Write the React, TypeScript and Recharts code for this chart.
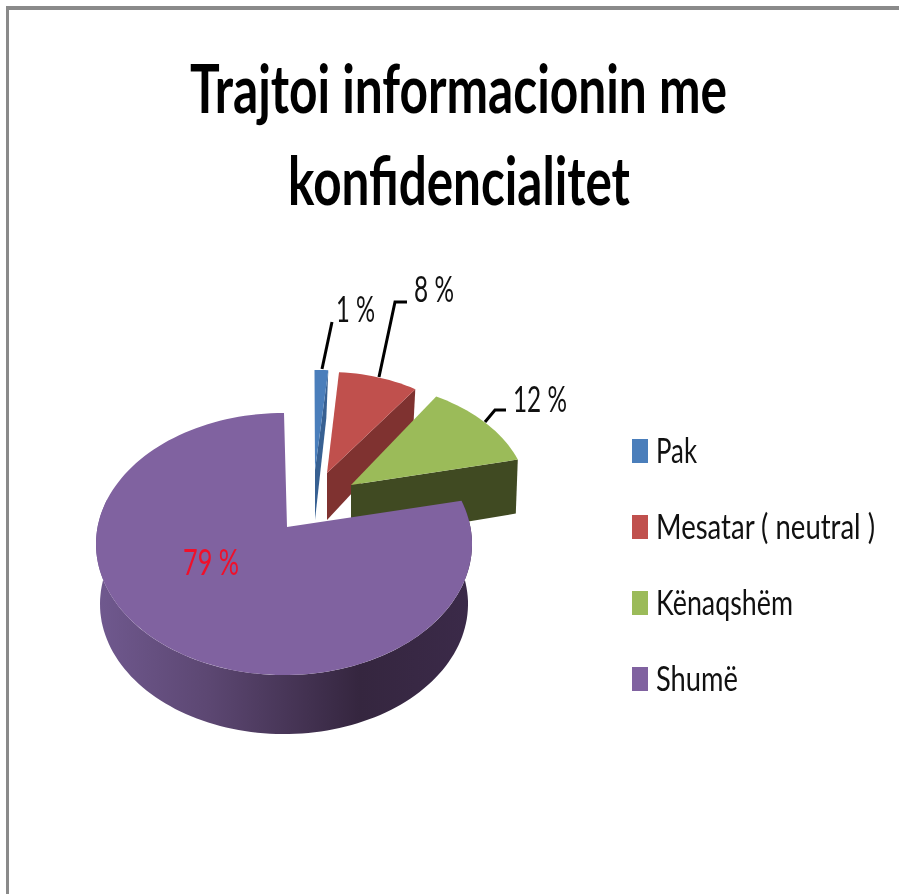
import React from "react";
import { PieChart, Pie, Legend } from "recharts";

const categories = ["Pak", "Mesatar ( neutral )", "Kënaqshëm", "Shumë"];
const shares = [1, 8, 12, 79];
const topColors = ["#4a7ebb", "#c0504d", "#9bbb59", "#8062a0"];
const titleLines = ["Trajtoi informacionin me", "konfidencialitet"];

const rows = categories.map((name, i) => ({ name, value: shares[i], fill: topColors[i] }));

const FONT = "Lato, 'Open Sans', sans-serif";
const PIE_CX = 284;
const PIE_CY = 544;
const PIE_R = 188;

// Projection of each exploded slice, relative to the pie's centre and radius.
const sliceViews = [
  { dx: 30.5, dy: -43, kx: 1.277, ky: 0.697, ax: 31, ay: -74, depthIn: 50, depthOut: 48, side: "#376092" },
  { dx: 45, dy: -41, kx: 0.926, ky: 0.697, ax: 43, ay: -71, depthIn: 47, depthOut: 38, side: "#7f3230" },
  { dx: 62, dy: -46, kx: 0.968, ky: 0.622, ax: 67, ay: -59, depthIn: 56, depthOut: 54, side: "#404a22" },
  { dx: 0, dy: 0, kx: 1, ky: 0.697, ax: 3, ay: -17, depthIn: 60, depthOut: 60, side: "url(#purpleWall)" },
];

const labelViews = [
  { x: 336, y: 322, w: 39, color: "#111", line: "M322 369L332 322" },
  { x: 414, y: 302, w: 40, color: "#111", line: "M379 377L395 302H407" },
  { x: 513, y: 412, w: 54, color: "#111", line: "M485 422L495 410H506" },
  { x: 183, y: 575, w: 56, color: "#f0102a", line: "" },
];

const legendRows = [
  { swatchY: 19, baseline: 43, w: 41 },
  { swatchY: 95, baseline: 119, w: 219 },
  { swatchY: 171, baseline: 195, w: 137 },
  { swatchY: 247, baseline: 271, w: 82 },
];

const rad = (d: number) => (d * Math.PI) / 180;
// Perspective warp: true clockwise angle from the top to the projected ellipse parameter.
const warp = (deg: number) => deg - 5 * Math.sin(rad(deg));

// Tall, narrow lettering of the stretched original: a smaller font scaled vertically.
const TallText = ({ x, y, w, size, stretch, weight, fill, children }: any) => (
  <text
    transform={`translate(${x} ${y}) scale(1 ${stretch})`}
    x={0}
    y={0}
    fontFamily={FONT}
    fontWeight={weight ?? 400}
    fontSize={size}
    fill={fill}
    textLength={w}
    lengthAdjust="spacingAndGlyphs"
  >
    {children}
  </text>
);

const SliceShape = (props: any) => {
  const index = categories.indexOf(props.name ?? props.payload?.name);
  const view = sliceViews[index];
  const R = props.outerRadius;
  const cx = props.cx + view.dx;
  const cy = props.cy + view.dy;
  const rx = R * view.kx;
  const ry = R * view.ky;
  const ax = props.cx + view.ax;
  const ay = props.cy + view.ay;
  const a0 = warp(90 - props.startAngle);
  const a1 = warp(90 - props.endAngle);

  const at = (p: number, ox = 0, oy = 0, shrink = 0) => [
    cx + ox + (rx - shrink) * Math.sin(rad(p)),
    cy + oy - (ry - shrink * 0.25) * Math.cos(rad(p)),
  ];
  const arc = (from: number, to: number, ox = 0, oy = 0, shrink = 0) => {
    const n = Math.max(4, Math.ceil(Math.abs(to - from) / 2));
    const out: number[][] = [];
    for (let i = 0; i <= n; i++) out.push(at(from + ((to - from) * i) / n, ox, oy, shrink));
    return out;
  };
  const d = (pts: number[][]) =>
    "M" + pts.map((p) => `${p[0].toFixed(1)} ${p[1].toFixed(1)}`).join("L") + "Z";

  const face = d([[ax, ay], ...arc(a0, a1)]);
  let wall: string;
  if (a1 - a0 > 180) {
    // the large slice shows its rounded outer wall
    wall = d([...arc(a0, 290), ...arc(290, a0, 0, view.depthOut, 4)]);
  } else {
    const e = at(a1);
    wall = d([
      [ax, ay],
      e,
      [e[0] - 2, e[1] + view.depthOut],
      [ax, ay + view.depthIn],
    ]);
  }
  return (
    <g>
      <defs>
        <linearGradient id="purpleWall" gradientUnits="userSpaceOnUse" x1="96" y1="0" x2="472" y2="0">
          <stop offset="0" stopColor="#70598f" />
          <stop offset="0.3" stopColor="#5c4772" />
          <stop offset="0.7" stopColor="#35263f" />
          <stop offset="1" stopColor="#3b2a49" />
        </linearGradient>
      </defs>
      <path d={wall} fill={view.side} stroke="none" />
      <path d={face} fill={props.fill} stroke="none" />
    </g>
  );
};

const SliceLabel = (props: any) => {
  const index = categories.indexOf(props.name ?? props.payload?.name);
  const v = labelViews[index];
  return (
    <g>
      {v.line ? <path d={v.line} fill="none" stroke="#000" strokeWidth={3} /> : null}
      <TallText x={v.x} y={v.y} w={v.w} size={26} stretch={1.42} fill={v.color}>
        {`${props.value} %`}
      </TallText>
    </g>
  );
};

const LegendContent = ({ payload }: any) => (
  <svg width={279} height={290} style={{ display: "block" }}>
    {categories.map((name, i) => {
      const entry = (payload ?? []).find((p: any) => p.value === name);
      if (!entry) return null;
      return (
        <g key={name}>
          <rect x={12} y={legendRows[i].swatchY} width={16} height={24} fill={entry.color} />
          <TallText x={36} y={legendRows[i].baseline} w={legendRows[i].w} size={25} stretch={1.4} fill="#111">
            {name}
          </TallText>
        </g>
      );
    })}
  </svg>
);

export default function App() {
  return (
    <div style={{ position: "absolute", left: 0, top: 0, width: 899, height: 894, overflow: "hidden", background: "#fff" }}>
      <div
        style={{
          position: "absolute",
          left: 6,
          top: 6,
          width: 893,
          height: 888,
          boxSizing: "border-box",
          borderTop: "4px solid #8a8a8a",
          borderLeft: "3px solid #8a8a8a",
        }}
      />
      <div style={{ position: "absolute", left: 0, top: 0, filter: "blur(0.6px)" }}>
        <PieChart width={899} height={894} margin={{ top: 0, right: 0, bottom: 0, left: 0 }}>
          <TallText x={190} y={113} w={537} size={48} stretch={1.4} weight={700} fill="#000">
            {titleLines[0]}
          </TallText>
          <TallText x={288} y={205} w={342} size={48} stretch={1.4} weight={700} fill="#000">
            {titleLines[1]}
          </TallText>
          <Pie
            data={rows}
            dataKey="value"
            nameKey="name"
            cx={PIE_CX}
            cy={PIE_CY}
            outerRadius={PIE_R}
            startAngle={90}
            endAngle={-270}
            stroke="none"
            shape={SliceShape}
            label={SliceLabel}
            labelLine={false}
            isAnimationActive={false}
          />
          <Legend
            layout="vertical"
            align="right"
            verticalAlign="top"
            itemSorter={null}
            wrapperStyle={{ left: 620, top: 420, width: 279, height: 290 }}
            content={LegendContent}
          />
        </PieChart>
      </div>
    </div>
  );
}
